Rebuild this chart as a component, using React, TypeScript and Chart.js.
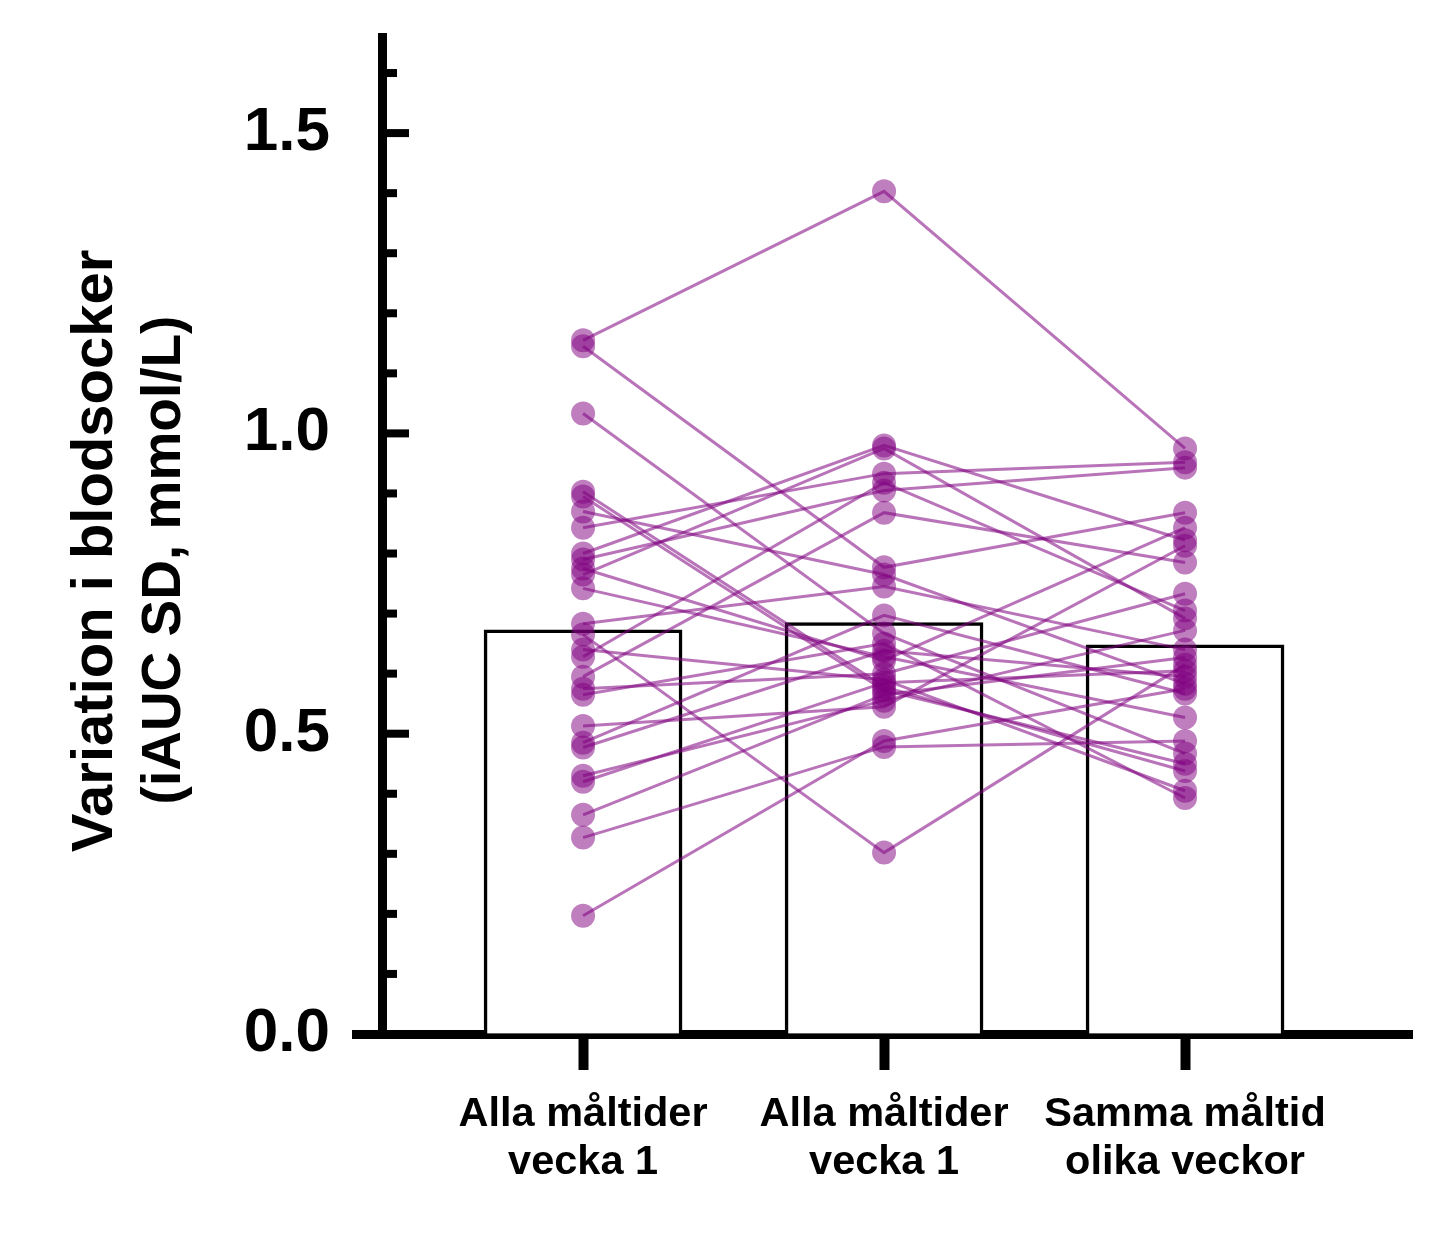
import { useEffect, useRef } from 'react';
import Chart from 'chart.js/auto';

const categories = [
  ['Alla måltider', 'vecka 1'],
  ['Alla måltider', 'vecka 1'],
  ['Samma måltid', 'olika veckor'],
];
const categoryX = [0, 1, 2];
const barMeans = [0.673, 0.685, 0.648];

// one entry per person, same order in all three lists
const week1A = [1.155, 1.145, 1.033, 0.903, 0.895, 0.87, 0.843, 0.8, 0.79, 0.775, 0.765, 0.742, 0.683, 0.665, 0.64, 0.628, 0.595, 0.575, 0.565, 0.513, 0.485, 0.477, 0.43, 0.42, 0.365, 0.327, 0.197];
const week1B = [1.403, 0.777, 0.667, 0.578, 0.572, 0.765, 0.933, 0.98, 0.905, 0.622, 0.975, 0.628, 0.745, 0.302, 0.59, 0.918, 0.868, 0.6, 0.65, 0.545, 0.697, 0.638, 0.555, 0.585, 0.565, 0.478, 0.488];
const sameMeal = [0.975, 0.868, 0.467, 0.438, 0.45, 0.583, 0.952, 0.822, 0.943, 0.843, 0.692, 0.527, 0.64, 0.615, 0.405, 0.705, 0.785, 0.733, 0.393, 0.813, 0.567, 0.595, 0.672, 0.605, 0.627, 0.488, 0.575];

const yTicks = [0, 0.5, 1.0, 1.5];
const yMinorTicks = [0.1, 0.2, 0.3, 0.4, 0.6, 0.7, 0.8, 0.9, 1.1, 1.2, 1.3, 1.4, 1.6];
const yTitle = ['Variation i blodsocker', '(iAUC SD, mmol/L)'];

const FONT = '"Liberation Sans", Arial, sans-serif';
const PURPLE_PT = 'rgba(128, 0, 128, 0.5)';
const PURPLE_LN = 'rgba(128, 0, 128, 0.55)';

// ticks on the inside of the y axis (minor short, major long)
const innerTicks = {
  id: 'innerTicks',
  afterDraw(chart: Chart) {
    const { ctx, chartArea } = chart;
    const y = chart.scales.y;
    ctx.save();
    ctx.strokeStyle = '#000';
    ctx.lineWidth = 8;
    const draw = (v: number, len: number) => {
      const py = y.getPixelForValue(v);
      ctx.beginPath();
      ctx.moveTo(chartArea.left, py);
      ctx.lineTo(chartArea.left + len, py);
      ctx.stroke();
    };
    yMinorTicks.forEach((v) => draw(v, 15));
    yTicks.forEach((v) => draw(v, 27));
    ctx.restore();
  },
};

// two-line rotated y title, each line centred on its own spot
const yTitlePlugin = {
  id: 'yTitle',
  afterDraw(chart: Chart) {
    const { ctx } = chart;
    const lines = [
      { text: yTitle[0], x: 112, y: 551, size: 58 },
      { text: yTitle[1], x: 180, y: 560, size: 55 },
    ];
    ctx.save();
    ctx.fillStyle = '#000';
    ctx.textAlign = 'center';
    ctx.textBaseline = 'alphabetic';
    lines.forEach((l) => {
      ctx.save();
      ctx.translate(l.x, l.y);
      ctx.rotate(-Math.PI / 2);
      ctx.font = `bold ${l.size}px ${FONT}`;
      ctx.fillText(l.text, 0, 0);
      ctx.restore();
    });
    ctx.restore();
  },
};

export default function App() {
  const canvasRef = useRef<HTMLCanvasElement | null>(null);
  const chartRef = useRef<Chart | null>(null);

  useEffect(() => {
    if (!canvasRef.current) return;
    const ctx = canvasRef.current.getContext('2d');
    if (!ctx) return;

    const subjects = week1A.map((a, i) => ({
      type: 'line' as const,
      order: 0,
      data: [
        { x: categoryX[0], y: a },
        { x: categoryX[1], y: week1B[i] },
        { x: categoryX[2], y: sameMeal[i] },
      ],
      borderColor: PURPLE_LN,
      borderWidth: 3,
      pointRadius: 12,
      pointBorderWidth: 0,
      pointBackgroundColor: PURPLE_PT,
      fill: false,
    }));

    chartRef.current = new Chart(ctx, {
      type: 'bar',
      data: {
        datasets: [
          {
            type: 'bar',
            order: 10,
            data: barMeans.map((m, i) => ({ x: categoryX[i], y: m })),
            backgroundColor: '#fff',
            borderColor: '#000',
            borderWidth: 3.5,
            barThickness: 198,
          },
          ...subjects,
        ] as any,
      },
      options: {
        animation: false,
        responsive: true,
        maintainAspectRatio: false,
        layout: { padding: { top: 37, right: 42, left: 0, bottom: 0 } },
        plugins: {
          legend: { display: false },
          tooltip: { enabled: false },
        },
        scales: {
          x: {
            type: 'linear',
            offset: false,
            min: -0.668,
            max: 2.754,
            afterBuildTicks: (scale: any) => {
              scale.ticks = categoryX.map((v) => ({ value: v }));
            },
            afterFit: (scale: any) => {
              scale.height = 199;
              scale.paddingLeft = 0;
              scale.paddingRight = 0;
            },
            border: { display: true, color: '#000', width: 9 },
            grid: {
              display: true,
              offset: false,
              drawOnChartArea: false,
              drawTicks: true,
              tickLength: 36,
              tickWidth: 10,
              tickColor: '#000',
            },
            ticks: {
              color: '#000',
              padding: 21,
              font: { family: FONT, size: 41.5, weight: 'bold', lineHeight: 1.15 },
              maxRotation: 0,
              autoSkip: false,
              callback: (v: any) => categories[categoryX.indexOf(Number(v))] ?? '',
            },
          },
          y: {
            type: 'linear',
            min: 0,
            max: 1.66,
            afterBuildTicks: (scale: any) => {
              scale.ticks = yTicks.map((v) => ({ value: v }));
            },
            afterFit: (scale: any) => {
              scale.width = 382;
              scale.paddingTop = 0;
              scale.paddingBottom = 0;
            },
            border: { display: true, color: '#000', width: 9 },
            grid: {
              display: true,
              drawOnChartArea: false,
              drawTicks: true,
              tickLength: 30,
              tickWidth: 9,
              tickColor: (c: any) => (c.tick && c.tick.value === 0 ? '#000' : 'rgba(0,0,0,0)'),
            },
            ticks: {
              color: '#000',
              padding: 22,
              font: { family: FONT, size: 62, weight: 'bold' },
              callback: (v: any) => Number(v).toFixed(1),
            },
            title: { display: false },
          },
        },
      },
      plugins: [innerTicks, yTitlePlugin],
    });

    return () => {
      chartRef.current?.destroy();
    };
  }, []);

  return (
    <div style={{ position: 'absolute', left: 0, top: 0, width: 1454, height: 1233, background: '#fff' }}>
      <canvas ref={canvasRef}></canvas>
    </div>
  );
}
